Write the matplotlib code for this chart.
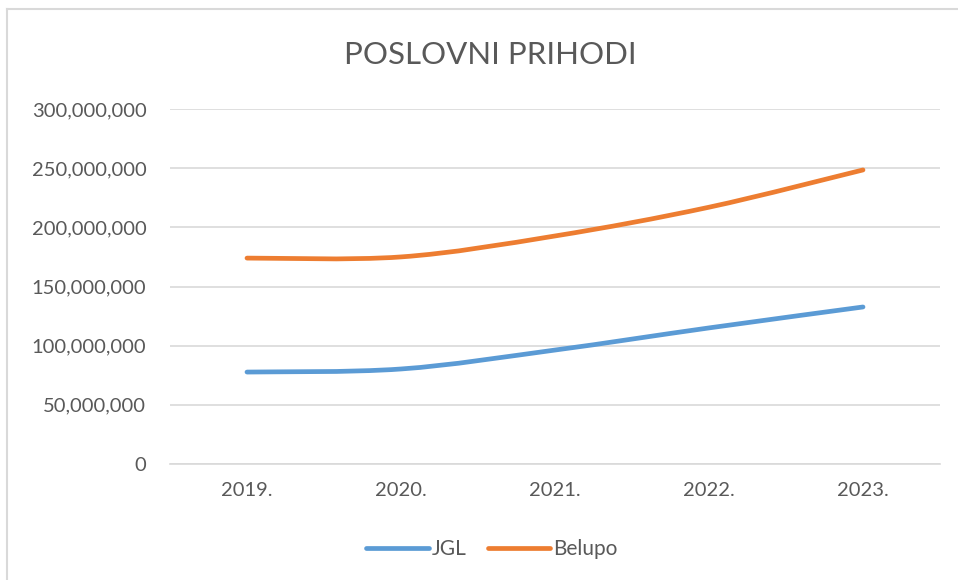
import matplotlib.pyplot as plt
import numpy as np
from matplotlib.path import Path
from matplotlib.patches import PathPatch
from matplotlib.lines import Line2D
from matplotlib.ticker import FuncFormatter

plt.rcParams['font.family'] = ['Lato', 'DejaVu Sans']

years = ["2019.", "2020.", "2021.", "2022.", "2023."]
jgl = [77.7e6, 80.3e6, 96.3e6, 115.0e6, 132.7e6]
belupo = [174.0e6, 175.0e6, 192.7e6, 217.0e6, 248.5e6]

text_color = '#595959'
grid_color = '#D9D9D9'
colors = {'JGL': '#5B9BD5', 'Belupo': '#ED7D31'}


def smooth_path(xs, ys):
    # Catmull-Rom style smoothing like Excel's smoothed line
    xs = np.asarray(xs, float)
    ys = np.asarray(ys, float)
    verts = [(xs[0], ys[0])]
    codes = [Path.MOVETO]
    n = len(xs)
    for i in range(n - 1):
        x0, y0 = (xs[i - 1], ys[i - 1]) if i > 0 else (xs[i], ys[i])
        x1, y1 = xs[i], ys[i]
        x2, y2 = xs[i + 1], ys[i + 1]
        x3, y3 = (xs[i + 2], ys[i + 2]) if i + 2 < n else (x2, y2)
        c1 = (x1 + (x2 - x0) / 6, y1 + (y2 - y0) / 6)
        c2 = (x2 - (x3 - x1) / 6, y2 - (y3 - y1) / 6)
        verts += [c1, c2, (x2, y2)]
        codes += [Path.CURVE4] * 3
    return Path(verts, codes)


fig = plt.figure(figsize=(9.58, 5.8), dpi=100)
ax = fig.add_axes([170 / 958, 1 - 464 / 580, 770 / 958, 355 / 580])

# chart area border (only left/top visible in the crop)
fig.add_artist(Line2D([7 / 958, 7 / 958], [0, 1 - 9 / 580], transform=fig.transFigure,
                      color='#D9D9D9', lw=1.5))
fig.add_artist(Line2D([7 / 958, 1], [1 - 9 / 580, 1 - 9 / 580], transform=fig.transFigure,
                      color='#D9D9D9', lw=1.5))

x = np.arange(len(years))
for name, vals in [('JGL', jgl), ('Belupo', belupo)]:
    patch = PathPatch(smooth_path(x, vals), facecolor='none', edgecolor=colors[name],
                      lw=3.4, capstyle='round', joinstyle='round', zorder=3)
    ax.add_patch(patch)

ax.set_xlim(-0.5, len(years) - 0.5)
ax.set_ylim(0, 300e6)
ax.set_yticks(np.arange(0, 300e6 + 1, 50e6))
ax.yaxis.set_major_formatter(FuncFormatter(lambda v, p: f"{int(v):,}"))
ax.set_xticks(x)
ax.set_xticklabels(years)
ax.grid(axis='y', color=grid_color, lw=1.2)
ax.set_axisbelow(True)
for s in ['top', 'right', 'left']:
    ax.spines[s].set_visible(False)
ax.spines['bottom'].set_color(grid_color)
ax.spines['bottom'].set_linewidth(1.2)
ax.tick_params(axis='both', length=0, labelsize=14.5, colors=text_color)
ax.tick_params(axis='y', pad=17)
ax.tick_params(axis='x', pad=13)

fig.text(490 / 958, 1 - 55 / 580, "POSLOVNI PRIHODI", ha='center', va='center',
         fontsize=22.5, color=text_color)

handles = [Line2D([0], [0], color=colors[n], lw=3.4, solid_capstyle='round') for n in colors]
fig.legend(handles, list(colors), loc='center', bbox_to_anchor=(492 / 958, 1 - 549 / 580),
           ncol=2, frameon=False, fontsize=15, labelcolor=text_color,
           handlelength=3.0, handletextpad=0.15, columnspacing=1.0)

fig.savefig('out.png', dpi=100)
